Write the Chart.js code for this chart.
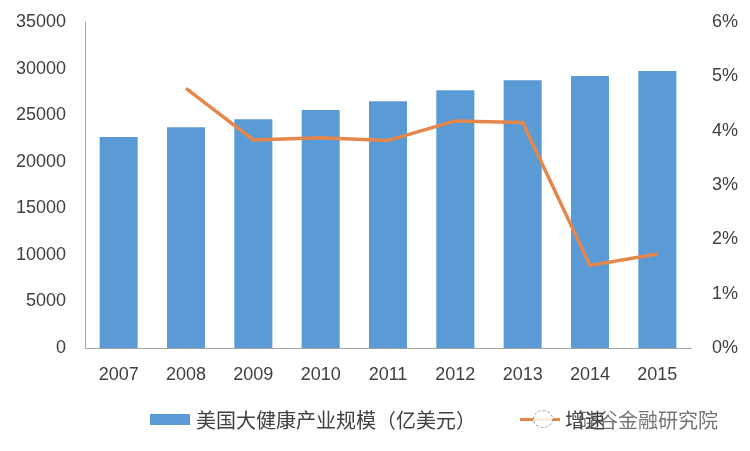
<!DOCTYPE html>
<html>
<head>
<meta charset="utf-8">
<script src="https://cdn.jsdelivr.net/npm/chart.js@4/dist/chart.umd.min.js"></script>
<style>
    html, body { margin: 0; padding: 0; background: #fff; }
    #wrap { position: relative; width: 750px; height: 451px; }
    .legend-item { position: absolute; top: 405px; height: 28px; display: flex; align-items: center;
        font-family: "Noto Sans CJK SC", sans-serif; font-size: 20px; color: #404040; white-space: nowrap; }
    .swatch-bar { display: inline-block; width: 40px; height: 11px; background: #5B9BD5; margin-right: 6px; }
    .swatch-line { display: inline-block; width: 40px; height: 3px; background: #E5874A; margin-right: 5px; }
    #watermark { position: absolute; left: 578px; top: 405px; height: 28px; display: flex; align-items: center;
        font-family: "Noto Sans CJK SC", sans-serif; font-size: 20px; color: rgba(80, 80, 80, 0.8); white-space: nowrap; }
    #logo { position: absolute; left: 533px; top: 410px; width: 18px; height: 16px; border: 1px dashed #999;
        border-radius: 50%; background: rgba(255, 255, 255, 0.85); }
</style>
</head>
<body>
<div id="wrap">
    <canvas id="healthChart" width="750" height="451"></canvas>
    <div class="legend-item" style="left:150px"><span class="swatch-bar"></span><span id="legendBar"></span></div>
    <div class="legend-item" style="left:520px"><span class="swatch-line"></span><span id="legendLine"></span></div>
    <div id="logo"></div>
    <div id="watermark">硅谷金融研究院</div>
</div>
<script>
// === 美国大健康产业规模 ===

const years = ['2007', '2008', '2009', '2010', '2011', '2012', '2013', '2014', '2015'];
const marketSize = [22650, 23700, 24550, 25550, 26500, 27680, 28750, 29200, 29750];
const growthRate = [null, 0.0478, 0.0383, 0.0387, 0.0382, 0.0418, 0.0415, 0.0152, 0.0173];
const barLabel = '美国大健康产业规模（亿美元）';
const lineLabel = '增速';

document.addEventListener('DOMContentLoaded', function() {
    document.getElementById('legendBar').textContent = barLabel;
    document.getElementById('legendLine').textContent = lineLabel;

    const tickFont = { family: '"Liberation Sans", Arial, sans-serif', size: 18 };
    const textColor = '#404040';
    const axisColor = '#a6a6a6';

    // keep the plot box fixed: y axes should not push the top down
    const fixVertical = function(width) {
        return function(scale) {
            scale.width = width;
            scale.paddingTop = 0;
            scale.paddingBottom = 0;
        };
    };

    new Chart(document.getElementById('healthChart'), {
        type: 'bar',
        data: {
            labels: years,
            datasets: [
                {
                    type: 'line',
                    label: lineLabel,
                    data: growthRate,
                    yAxisID: 'y1',
                    borderColor: '#E5874A',
                    backgroundColor: '#E5874A',
                    borderWidth: 3.5,
                    pointRadius: 0,
                    tension: 0,
                    order: 0
                },
                {
                    label: barLabel,
                    data: marketSize,
                    yAxisID: 'y',
                    backgroundColor: '#5B9BD5',
                    barPercentage: 0.565,
                    categoryPercentage: 1,
                    order: 1
                }
            ]
        },
        options: {
            responsive: false,
            animation: false,
            layout: { padding: { top: 22, left: 0, right: 0, bottom: 0 } },
            scales: {
                x: {
                    grid: { display: false, drawTicks: false },
                    border: { display: true, color: axisColor, width: 1 },
                    ticks: { color: textColor, font: tickFont, padding: 16, maxRotation: 0 },
                    afterFit: function(scale) { scale.height = 103; }
                },
                y: {
                    position: 'left',
                    min: 0,
                    max: 35000,
                    grid: { display: false, drawTicks: false },
                    border: { display: true, color: axisColor, width: 1 },
                    ticks: {
                        stepSize: 5000,
                        color: textColor,
                        font: tickFont,
                        padding: 19,
                        callback: function(value) { return String(value); }
                    },
                    afterFit: fixVertical(85)
                },
                y1: {
                    position: 'right',
                    min: 0,
                    max: 0.06,
                    grid: { display: false, drawTicks: false },
                    border: { display: false },
                    ticks: {
                        stepSize: 0.01,
                        color: textColor,
                        font: tickFont,
                        padding: 21,
                        callback: function(value) {
                            return Math.round(value * 100) + '%';
                        }
                    },
                    afterFit: fixVertical(59)
                }
            },
            plugins: {
                legend: { display: false },
                tooltip: { enabled: false }
            }
        }
    });
});
</script>
</body>
</html>
